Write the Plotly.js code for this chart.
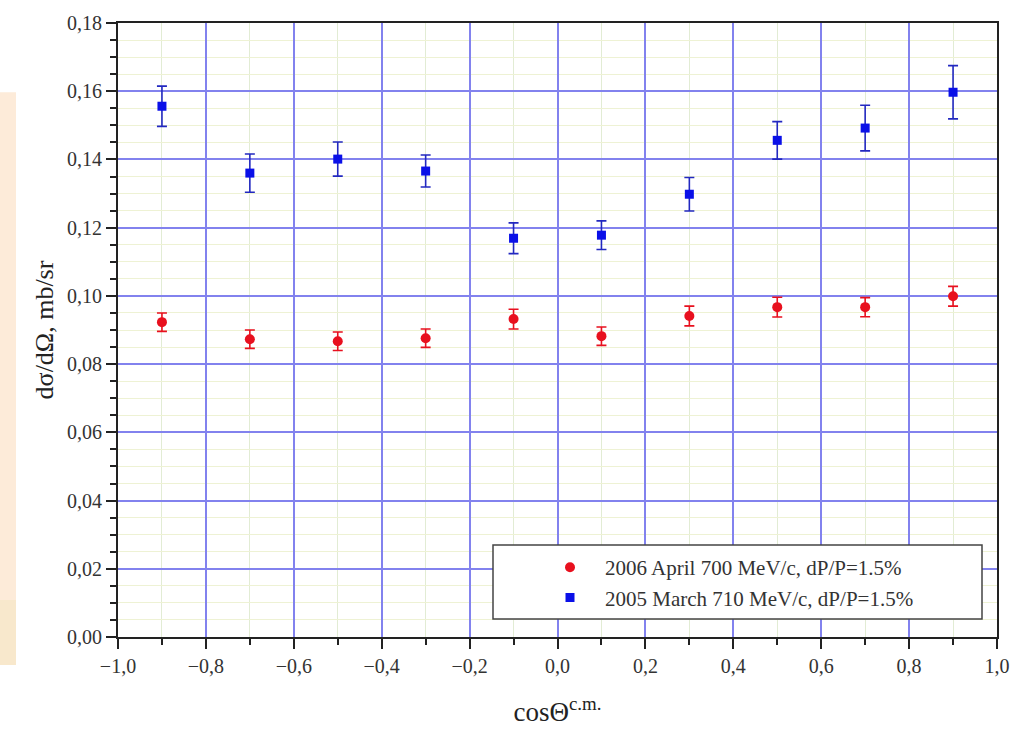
<!DOCTYPE html>
<html>
<head>
<meta charset="utf-8">
<script src="https://cdn.plot.ly/plotly-3.0.1.min.js"></script>
<style>html,body{margin:0;padding:0;background:#fff;}#chart{width:1015px;height:729px;}</style>
</head>
<body>
<div id="chart"></div>
<script>
// cosΘ c.m. positions
const cosTheta = [-0.9, -0.7, -0.5, -0.3, -0.1, 0.1, 0.3, 0.5, 0.7, 0.9];

// 2006 April 700 MeV/c (red circles)
const redName = "2006 April 700 MeV/c, dP/P=1.5%";
const redY   = [0.0923, 0.0873, 0.0867, 0.0876, 0.0932, 0.0882, 0.0941, 0.0967, 0.0967, 0.0999];
const redErr = [0.0027, 0.0027, 0.0027, 0.0027, 0.0029, 0.0027, 0.0029, 0.0029, 0.0028, 0.0029];

// 2005 March 710 MeV/c (blue squares)
const blueName = "2005 March 710 MeV/c, dP/P=1.5%";
const blueY   = [0.1556, 0.1360, 0.1401, 0.1366, 0.1169, 0.1178, 0.1298, 0.1456, 0.1492, 0.1597];
const blueErr = [0.0059, 0.0056, 0.0050, 0.0047, 0.0045, 0.0042, 0.0049, 0.0055, 0.0067, 0.0078];

// axis ticks
const xRange = [-1.0, 1.0], xStep = 0.2, xMinorPerMajor = 2;
const yRange = [0.00, 0.18], yStep = 0.02, yMinorPerMajor = 4;

// minor tick positions (excluding the major ones)
function minorVals(range, step, per) {
  const out = [];
  const n = Math.round((range[1] - range[0]) / step * per);
  for (let i = 1; i < n; i++) {
    if (i % per !== 0) out.push(+(range[0] + i * step / per).toFixed(6));
  }
  return out;
}

const serif = "'Liberation Serif', 'DejaVu Serif', serif";

const traces = [
  {
    x: cosTheta, y: redY, name: redName, type: 'scatter', mode: 'markers',
    marker: {symbol: 'circle', size: 10, color: '#e8101e'},
    error_y: {type: 'data', array: redErr, visible: true, color: '#e8101e', thickness: 1.6, width: 5}
  },
  {
    x: cosTheta, y: blueY, name: blueName, type: 'scatter', mode: 'markers',
    marker: {symbol: 'square', size: 9, color: '#0a10e8'},
    error_y: {type: 'data', array: blueErr, visible: true, color: '#2228c0', thickness: 1.6, width: 5}
  }
];

const pl = 118, pr = 997, pt = 22.75, pb = 637;
const pw = pr - pl, ph = pb - pt;
function px(x){ return (x - pl) / pw; }
function py(y){ return (pb - y) / ph; }

const layout = {
  width: 1015, height: 729,
  margin: {l: pl, r: 1015 - pr, t: pt, b: 729 - pb, pad: 0},
  paper_bgcolor: '#ffffff', plot_bgcolor: '#ffffff',
  separators: ', ',
  font: {family: serif, color: '#333333', size: 20},
  showlegend: true,
  legend: {
    x: px(535), y: py(547), xanchor: 'left', yanchor: 'top',
    bgcolor: 'rgba(0,0,0,0)', borderwidth: 0,
    font: {family: serif, size: 21, color: '#333333'},
    itemwidth: 60, tracegroupgap: 0
  },
  xaxis: {
    range: xRange, tick0: xRange[0], dtick: xStep, tickformat: '.1f',
    showline: true, linecolor: '#222222', linewidth: 2, mirror: true,
    ticks: 'outside', ticklen: 10, tickwidth: 2, tickcolor: '#222222',
    showgrid: true, gridcolor: '#8282ee', gridwidth: 2,
    zeroline: false,
    minor: {tickmode: 'array', tickvals: minorVals(xRange, xStep, xMinorPerMajor),
            ticks: 'outside', ticklen: 6, tickwidth: 2, tickcolor: '#222222',
            showgrid: true, gridcolor: '#e2ecd4', gridwidth: 1},
    tickfont: {family: serif, size: 20, color: '#333333'},
    title: {text: 'cosΘ<sup>c.m.</sup>', font: {family: serif, size: 27, color: '#222222'}, standoff: 26}
  },
  yaxis: {
    range: yRange, tick0: yRange[0], dtick: yStep, tickformat: '.2f',
    showline: true, linecolor: '#222222', linewidth: 2, mirror: true,
    ticks: 'outside', ticklen: 10, tickwidth: 2, tickcolor: '#222222',
    showgrid: true, gridcolor: '#8282ee', gridwidth: 2,
    zeroline: false,
    minor: {tickmode: 'array', tickvals: minorVals(yRange, yStep, yMinorPerMajor),
            ticks: 'outside', ticklen: 6, tickwidth: 2, tickcolor: '#222222',
            showgrid: true, gridcolor: '#eef2d4', gridwidth: 1},
    tickfont: {family: serif, size: 20, color: '#333333'},
    title: {text: 'dσ/dΩ, mb/sr', font: {family: serif, size: 26, color: '#222222'}, standoff: 6}
  },
  shapes: [
    {type: 'rect', xref: 'paper', yref: 'paper', x0: px(493), x1: px(982), y0: py(619), y1: py(545),
     fillcolor: '#ffffff', line: {color: '#444444', width: 1.5}, layer: 'above'},
    {type: 'rect', xref: 'paper', yref: 'paper', x0: px(0), x1: px(16), y0: py(600), y1: py(92),
     fillcolor: '#fdebd9', line: {width: 0}, layer: 'below'},
    {type: 'rect', xref: 'paper', yref: 'paper', x0: px(0), x1: px(16), y0: py(665), y1: py(600),
     fillcolor: '#f8e8cc', line: {width: 0}, layer: 'below'}
  ]
};

Plotly.newPlot('chart', traces, layout, {displayModeBar: false, staticPlot: true});
</script>
</body>
</html>
